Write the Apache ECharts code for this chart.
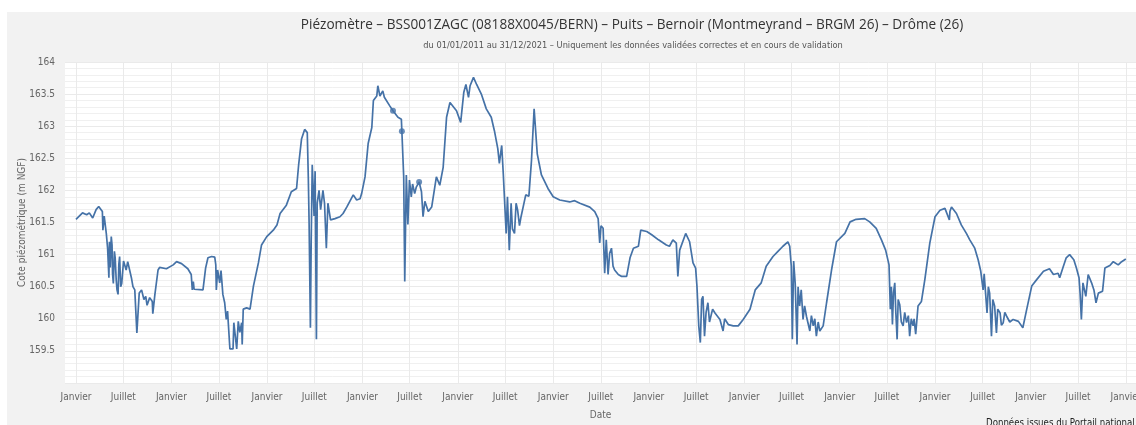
<!DOCTYPE html>
<html>
<head>
<meta charset="utf-8">
<script src="https://cdn.jsdelivr.net/npm/echarts@6/dist/echarts.min.js"></script>
<style>
html,body{margin:0;padding:0;background:#fff;width:1136px;height:425px;overflow:hidden;}
#chart{position:absolute;left:7px;top:12px;width:1129px;height:413px;background:#f2f2f2;}
</style>
</head>
<body>
<div id="chart"></div>
<script>
const titleText = 'Piézomètre – BSS001ZAGC (08188X0045/BERN) – Puits – Bernoir (Montmeyrand – BRGM 26) – Drôme (26)';
const subtitleText = 'du 01/01/2011 au 31/12/2021 – Uniquement les données validées correctes et en cours de validation';
const yAxisName = 'Cote piézométrique (m NGF)';
const xAxisName = 'Date';
const creditText = 'Données issues du Portail national eaufrance';

const tickDates = ['2011-01-01','2011-07-01','2012-01-01','2012-07-01','2013-01-01','2013-07-01','2014-01-01','2014-07-01','2015-01-01','2015-07-01','2016-01-01','2016-07-01','2017-01-01','2017-07-01','2018-01-01','2018-07-01','2019-01-01','2019-07-01','2020-01-01','2020-07-01','2021-01-01','2021-07-01','2022-01-01'];
const monthNames = {0:'Janvier', 6:'Juillet'};

const dates = [
'2011-01-01','2011-01-26','2011-02-11','2011-02-21','2011-03-06','2011-03-19','2011-03-29','2011-04-12','2011-04-14','2011-04-19',
'2011-04-27','2011-05-02','2011-05-07','2011-05-09','2011-05-12','2011-05-16','2011-05-19','2011-05-21','2011-05-24','2011-05-28',
'2011-05-31','2011-06-04','2011-06-07','2011-06-11','2011-06-14','2011-06-17','2011-06-21','2011-06-25','2011-07-02','2011-07-12',
'2011-07-18','2011-08-01','2011-08-07','2011-08-14','2011-08-22','2011-08-31','2011-09-09','2011-09-18','2011-09-25','2011-09-30',
'2011-10-10','2011-10-20','2011-10-22','2011-10-30','2011-11-11','2011-11-17','2011-12-13','2012-01-08','2012-01-21','2012-02-09',
'2012-03-04','2012-03-17','2012-03-21','2012-03-25','2012-03-28','2012-05-01','2012-05-07','2012-05-11','2012-05-20','2012-06-03',
'2012-06-15','2012-06-19','2012-06-21','2012-06-26','2012-07-04','2012-07-09','2012-07-16','2012-07-23','2012-07-29','2012-08-03',
'2012-08-12','2012-08-24','2012-08-27','2012-09-07','2012-09-13','2012-09-19','2012-09-26','2012-09-28','2012-10-02','2012-10-15',
'2012-10-28','2012-11-10','2012-11-29','2012-12-11','2012-12-31','2013-01-25','2013-02-08','2013-02-20','2013-03-16','2013-04-04',
'2013-04-24','2013-05-02','2013-05-13','2013-05-25','2013-06-04','2013-06-08','2013-06-11','2013-06-16','2013-06-19','2013-06-23',
'2013-06-26','2013-06-30','2013-07-04','2013-07-09','2013-07-12','2013-07-19','2013-07-25','2013-08-03','2013-08-09','2013-08-16',
'2013-08-22','2013-09-01','2013-09-18','2013-10-07','2013-10-19','2013-11-02','2013-11-27','2013-12-10','2013-12-23','2013-12-29',
'2014-01-11','2014-01-23','2014-02-06','2014-02-12','2014-02-25','2014-03-01','2014-03-09','2014-03-20','2014-03-26','2014-04-15',
'2014-04-28','2014-05-17','2014-05-30','2014-06-01','2014-06-08','2014-06-12','2014-06-18','2014-06-24','2014-06-30','2014-07-07',
'2014-07-12','2014-07-20','2014-07-26','2014-08-06','2014-08-15','2014-08-21','2014-08-28','2014-09-10','2014-09-23','2014-10-11',
'2014-10-24','2014-11-06','2014-11-19','2014-12-02','2014-12-27','2015-01-12','2015-01-24','2015-02-01','2015-02-11','2015-02-17',
'2015-03-02','2015-03-14','2015-04-01','2015-04-20','2015-05-09','2015-05-21','2015-06-03','2015-06-09','2015-06-18','2015-06-24',
'2015-07-05','2015-07-10','2015-07-17','2015-07-24','2015-07-29','2015-08-06','2015-08-12','2015-08-18','2015-08-25','2015-08-31',
'2015-09-18','2015-09-30','2015-10-10','2015-10-20','2015-11-01','2015-11-17','2015-12-12','2016-01-01','2016-01-26','2016-03-04',
'2016-03-23','2016-04-12','2016-05-20','2016-06-08','2016-06-21','2016-06-27','2016-07-02','2016-07-10','2016-07-16','2016-07-22',
'2016-07-29','2016-08-04','2016-08-11','2016-08-17','2016-08-23','2016-09-06','2016-09-19','2016-10-08','2016-10-21','2016-11-03',
'2016-11-22','2016-12-01','2016-12-24','2017-01-12','2017-02-07','2017-03-09','2017-03-21','2017-04-03','2017-04-16','2017-04-22',
'2017-04-29','2017-05-22','2017-06-06','2017-06-19','2017-06-29','2017-07-04','2017-07-11','2017-07-17','2017-07-22','2017-07-27',
'2017-08-02','2017-08-08','2017-08-15','2017-08-21','2017-08-28','2017-09-02','2017-09-11','2017-09-30','2017-10-12','2017-10-18',
'2017-11-01','2017-11-20','2017-12-09','2017-12-28','2018-01-23','2018-02-12','2018-03-07','2018-03-26','2018-04-21','2018-05-10',
'2018-05-29','2018-06-17','2018-06-24','2018-06-30','2018-07-04','2018-07-09','2018-07-15','2018-07-22','2018-07-26','2018-08-01',
'2018-08-07','2018-08-14','2018-08-20','2018-08-27','2018-09-09','2018-09-15','2018-09-22','2018-09-28','2018-10-04','2018-10-11',
'2018-10-17','2018-10-30','2018-11-12','2018-12-01','2018-12-20','2019-01-21','2019-02-10','2019-03-05','2019-04-07','2019-04-26',
'2019-05-21','2019-06-10','2019-06-26','2019-07-09','2019-07-14','2019-07-18','2019-07-22','2019-07-26','2019-07-31','2019-08-04',
'2019-08-09','2019-08-13','2019-08-19','2019-08-25','2019-09-01','2019-09-07','2019-09-14','2019-09-21','2019-09-26','2019-10-02',
'2019-10-09','2019-10-13','2019-10-19','2019-10-28','2019-11-10','2019-11-23','2019-12-12','2020-01-01','2020-01-20','2020-02-08',
'2020-02-25','2020-02-27','2020-03-04','2020-03-23','2020-04-11','2020-04-30','2020-05-13','2020-06-01','2020-06-14','2020-06-24',
'2020-07-03','2020-07-07','2020-07-18','2020-07-23','2020-07-28','2020-08-04','2020-08-09','2020-08-16','2020-08-23','2020-08-28',
'2020-09-06','2020-09-11','2020-09-18','2020-09-24','2020-10-01','2020-10-13','2020-10-26','2020-11-15','2020-12-02','2020-12-17',
'2021-01-05','2021-01-24','2021-02-19','2021-03-14','2021-03-29','2021-04-16','2021-04-22','2021-05-04','2021-05-17','2021-05-30',
'2021-06-15','2021-06-25','2021-07-05','2021-07-09','2021-07-14','2021-07-20','2021-07-31','2021-08-09','2021-08-22','2021-08-31',
'2021-09-08','2021-09-17','2021-10-03','2021-10-12','2021-10-31','2021-11-13','2021-12-02','2021-12-15','2021-12-31'
];
const levels = [
161.55,161.65,161.62,161.65,161.57,161.70,161.75,161.67,161.38,161.60,
161.33,161.10,160.64,161.20,160.80,161.28,161.15,160.70,160.55,161.05,
160.95,160.60,160.45,160.38,160.85,160.97,160.50,160.55,160.90,160.76,
160.89,160.64,160.50,160.45,159.78,160.40,160.45,160.30,160.35,160.21,
160.33,160.27,160.08,160.38,160.76,160.80,160.78,160.84,160.89,160.86,
160.78,160.69,160.45,160.58,160.46,160.45,160.46,160.79,160.95,160.97,
160.96,160.84,160.45,160.76,160.56,160.75,160.38,160.25,159.99,160.12,
159.53,159.53,159.94,159.53,159.96,159.79,159.94,159.60,160.15,160.17,
160.15,160.51,160.87,161.15,161.28,161.38,161.46,161.64,161.77,161.98,
162.03,162.40,162.80,162.95,162.90,162.20,161.50,159.86,161.20,162.40,
162.10,161.60,162.30,159.68,161.80,162.00,161.70,162.00,161.80,161.10,
161.80,161.54,161.56,161.59,161.64,161.74,161.93,161.85,161.87,161.95,
162.21,162.73,162.98,163.40,163.47,163.63,163.47,163.55,163.45,163.32,
163.24,163.14,163.11,162.92,162.21,160.58,162.24,161.47,162.16,161.90,
162.10,161.95,162.05,162.13,161.98,161.59,161.83,161.67,161.74,162.21,
162.08,162.36,163.14,163.37,163.24,163.06,163.53,163.65,163.45,163.63,
163.76,163.65,163.50,163.27,163.14,162.93,162.65,162.42,162.70,162.26,
161.33,161.90,161.07,161.80,161.40,161.33,161.80,161.69,161.45,161.59,
161.93,161.91,162.47,163.27,162.57,162.24,162.03,161.90,161.85,161.82,
161.84,161.80,161.74,161.67,161.56,161.18,161.45,161.41,160.71,161.23,
160.69,161.02,161.10,160.82,160.76,160.69,160.66,160.66,160.95,161.10,
161.13,161.38,161.36,161.31,161.23,161.15,161.13,161.23,161.18,160.66,
161.07,161.33,161.20,160.87,160.79,160.51,159.89,159.63,160.30,160.35,
159.73,160.10,160.25,159.95,159.94,160.15,160.09,159.99,159.81,160.00,
159.91,159.89,159.89,159.99,160.15,160.45,160.56,160.82,160.97,161.05,
161.13,161.20,161.13,160.82,159.68,160.90,160.55,159.60,160.50,160.20,
160.45,159.99,160.20,160.04,159.81,160.05,159.89,160.00,159.73,159.95,
159.81,159.89,160.25,160.76,161.20,161.33,161.51,161.55,161.56,161.51,
161.41,161.23,161.07,160.84,160.15,160.50,159.91,160.40,160.56,160.10,
159.68,160.30,160.22,159.95,159.89,160.10,159.94,160.05,159.73,160.00,
159.89,160.00,159.76,160.20,160.27,160.61,161.18,161.59,161.69,161.72,
161.54,161.67,161.74,161.64,161.46,161.33,161.23,161.10,160.92,160.74,
160.45,160.70,160.09,160.50,160.40,159.73,160.30,160.20,159.78,160.15,
160.09,159.90,159.94,160.10,160.04,159.95,159.99,159.96,159.86,160.15,
160.51,160.61,160.74,160.78,160.69,160.71,160.64,160.79,160.95,161.00,
160.92,160.79,160.64,160.40,159.99,160.56,160.35,160.69,160.56,160.45,
160.25,160.40,160.43,160.79,160.83,160.89,160.84,160.89,160.93
];
const markerDates = ['2014-04-28','2014-06-01','2014-08-06'];
const markerLevels = [163.24,162.92,162.13];

function toTime(s){const p=s.split('-').map(Number);return new Date(p[0],p[1]-1,p[2]).getTime();}

const lineData = dates.map((d,i)=>[toTime(d),levels[i]]);
const markerData = markerDates.map((d,i)=>[toTime(d),markerLevels[i]]);
const tickValues = tickDates.map(toTime);

const chart = echarts.init(document.getElementById('chart'), null, {renderer:'canvas'});
const labelFont = 'Liberation Sans Narrow, DejaVu Sans Condensed, Arial Narrow, sans-serif';
chart.setOption({
  animation:false,
  backgroundColor:'#f2f2f2',
  graphic:[
    {type:'text', x:625, y:6, style:{text:titleText, fill:'#333', font:'13.6px "Open Sans", sans-serif', textAlign:'center'}},
    {type:'text', x:626, y:29, style:{text:subtitleText, fill:'#555', font:'9.2px '+labelFont, textAlign:'center'}},
    {type:'text', x:979, y:406, style:{text:creditText, fill:'#222', font:'9.6px '+labelFont}}
  ],
  grid:{left:58, top:50, right:0, bottom:42, show:true, backgroundColor:'#ffffff', borderWidth:0,
        containLabel:false, outerBoundsMode:'none'},
  xAxis:{
    type:'value',
    min:toTime('2010-11-20'), max:toTime('2022-02-08'),
    name:xAxisName, nameLocation:'middle', nameGap:27, nameMoveOverlap:false,
    nameTextStyle:{color:'#666', fontSize:10, fontFamily:labelFont},
    axisLine:{show:false},
    axisTick:{show:false, customValues:tickValues},
    axisLabel:{customValues:tickValues, color:'#666', fontSize:10, fontFamily:labelFont, margin:9,
      hideOverlap:false,
      formatter:function(v){return monthNames[new Date(v).getMonth()] || '';}},
    splitLine:{show:true, lineStyle:{color:'#eaeaea', width:1}},
    minorTick:{show:false}, minorSplitLine:{show:false}
  },
  yAxis:{
    type:'value', min:159, max:164, interval:0.5,
    name:yAxisName, nameLocation:'middle', nameGap:38, nameRotate:90, nameMoveOverlap:false,
    nameTextStyle:{color:'#666', fontSize:10, fontFamily:labelFont},
    axisLine:{show:false}, axisTick:{show:false},
    axisLabel:{color:'#666', fontSize:10, fontFamily:labelFont, margin:10,
      formatter:function(v){return v===159?'':String(v);}},
    splitLine:{show:true, lineStyle:{color:'#eaeaea', width:1}},
    minorTick:{show:false, splitNumber:5},
    minorSplitLine:{show:true, lineStyle:{color:'#f0f0f0', width:1}}
  },
  series:[
    {type:'line', data:lineData, showSymbol:false, symbol:'none',
     lineStyle:{color:'#4572a7', width:1.7}, itemStyle:{color:'#4572a7'}, z:3},
    {type:'scatter', data:markerData, symbol:'circle', symbolSize:6,
     itemStyle:{color:'#4572a7'}, z:4}
  ]
});
</script>
</body>
</html>
